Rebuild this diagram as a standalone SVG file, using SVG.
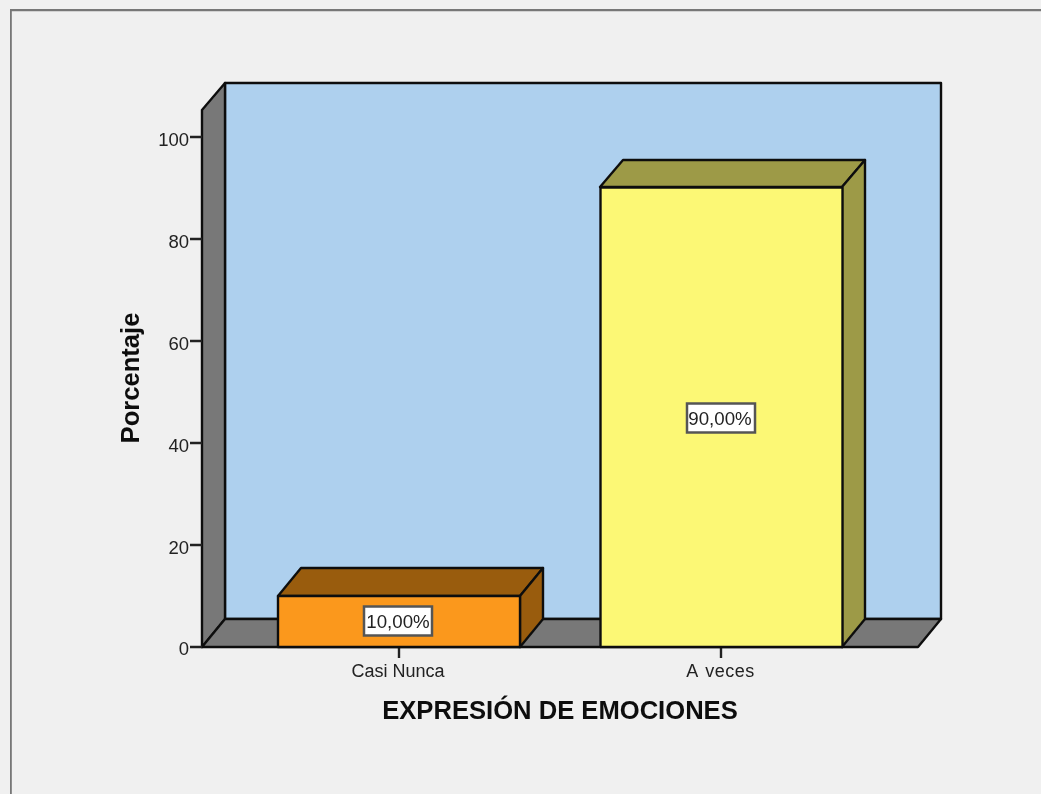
<svg xmlns="http://www.w3.org/2000/svg" width="1041" height="794" viewBox="0 0 1041 794">
<style>
.e{stroke:#111;stroke-width:2.400;stroke-linejoin:round}
.wall{fill:#787878}
.t{font-family:"Liberation Sans",Arial,sans-serif;font-size:18px;fill:#222}
.tk{font-family:"Liberation Sans",Arial,sans-serif;font-size:18.500px;fill:#222;text-anchor:end}
.c{text-anchor:middle}
.v{font-size:18.700px}
.b{font-family:"Liberation Sans",Arial,sans-serif;font-size:25.600px;font-weight:bold;fill:#111;text-anchor:middle}
.lb{fill:#fff;stroke:#555;stroke-width:2.500}
.tick{stroke:#222;stroke-width:2.400;fill:none}
</style>
<defs><filter id="soft" x="0" y="0" width="100%" height="100%"><feGaussianBlur stdDeviation="0.45"/></filter></defs>
<rect width="1041" height="794" fill="#f0f0f0"/>
<g filter="url(#soft)">
<path id="frame" d="M10.300 794V9.700H1041" fill="none" stroke="#777" stroke-width="3"/>
<g id="plot">
<rect x="225" y="83" width="716" height="536" fill="#aed0ee" class="e"/>
<polygon points="202,110 225,83 225,619 202,647" class="wall e"/>
<polygon points="202,647 225,619 941,619 918,647" class="wall e"/>
</g>
<g id="axes">
<path class="tick" d="M190 137H202M190 239H202M190 341H202M190 443H202M190 545H202M190 647H202M399 647V658M721 647V658"/>
<text class="tk" x="189" y="146">100</text>
<text class="tk" x="189" y="248">80</text>
<text class="tk" x="189" y="350">60</text>
<text class="tk" x="189" y="452">40</text>
<text class="tk" x="189" y="554">20</text>
<text class="tk" x="189" y="655">0</text>
<text class="t c" x="398" y="677">Casi Nunca</text>
<text class="t c" x="720.500" y="677" style="word-spacing:2px;letter-spacing:0.500px">A veces</text>
<text class="b" x="560" y="719">EXPRESIÓN DE EMOCIONES</text>
<text class="b" transform="translate(138.500 378) rotate(-90)">Porcentaje</text>
</g>
<g id="bar-casi-nunca">
<polygon class="e" fill="#995c10" points="278,596 301,568 543,568 520,596"/>
<polygon class="e" fill="#995c10" points="520,596 543,568 543,619 520,647"/>
<rect class="e" x="278" y="596" width="242" height="51" fill="#fb981e"/>
<rect class="lb" x="364" y="606.500" width="68" height="29"/>
<text class="t c v" x="398" y="627.500">10,00%</text>
</g>
<g id="bar-a-veces">
<polygon class="e" fill="#9d9a47" points="600,187 623,160 865,160 842,187"/>
<polygon class="e" fill="#9d9a47" points="842,187 865,160 865,619 842,647"/>
<rect class="e" x="600.500" y="187.500" width="242" height="459.500" fill="#fcf875"/>
<rect class="lb" x="687" y="403.500" width="68" height="29"/>
<text class="t c v" x="720" y="424.500">90,00%</text>
</g>
</g>
</svg>
